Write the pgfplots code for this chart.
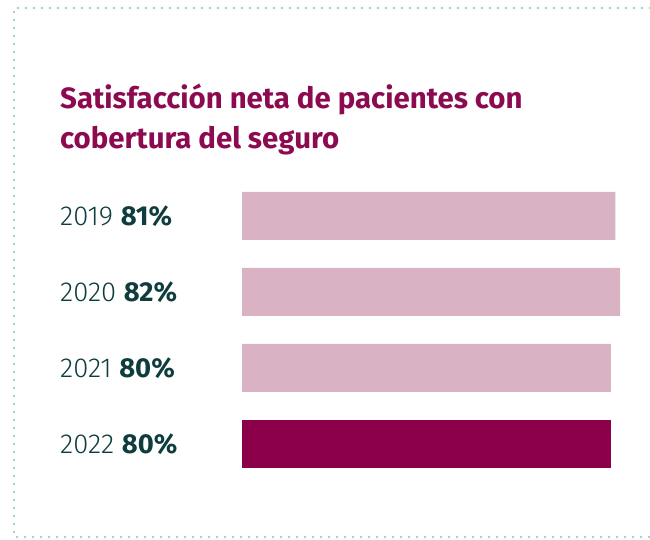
\documentclass[border=0pt]{standalone}
\usepackage{fontspec}
\setmainfont{Fira Sans}
\newfontfamily\labelfont{Fira Sans Light}[BoldFont={Fira Sans Bold}]
\newfontfamily\titlefont{Fira Sans Bold}
\usepackage{pgfplots}
\pgfplotsset{compat=1.18}

\definecolor{titlecol}{HTML}{8B0A50}
\definecolor{barlight}{HTML}{D9B3C4}
\definecolor{bardark}{HTML}{8B0049}
\definecolor{labelcol}{HTML}{0F3D3E}
\definecolor{dotcol}{HTML}{9CD2CA}

\begin{document}
\begin{tikzpicture}[x=1bp,y=1bp]
\useasboundingbox (0,0) rectangle (650,540);
% dotted frame, open on the right
\draw[dotcol, line width=2.6bp, line cap=round, dash pattern=on 0pt off 8bp]
  (650,532) -- (14,532) -- (14,3) -- (650,3);
% title
\node[anchor=base west, inner sep=0, text=titlecol, font=\titlefont\fontsize{29.5}{34}\selectfont]
  at (60,431) {Satisfacción neta de pacientes con};
\node[anchor=base west, inner sep=0, text=titlecol, font=\titlefont\fontsize{29.5}{34}\selectfont]
  at (60,391) {cobertura del seguro};

\begin{axis}[
  at={(242bp,58bp)}, anchor=south west,
  scale only axis, width=378bp, height=304bp,
  xmin=0, xmax=82, ymin=-0.5, ymax=3.5, y dir=reverse,
  xbar, bar width=48bp,
  axis line style={draw=none},
  xtick=\empty, ytick={0,1,2,3},
  major tick length=0pt,
  yticklabels={2019 \textbf{81\%}, 2020 \textbf{82\%}, 2021 \textbf{80\%}, 2022 \textbf{80\%}},
  yticklabel style={anchor=west, xshift=-182bp, inner sep=0pt,
    text=labelcol, font=\labelfont\fontsize{27.5}{32}\selectfont},
]
\addplot[bar shift=0pt, fill=barlight, draw=none] coordinates {(81,0) (82,1) (80,2)};
\addplot[bar shift=0pt, fill=bardark, draw=none] coordinates {(80,3)};
\end{axis}
\end{tikzpicture}
\end{document}
